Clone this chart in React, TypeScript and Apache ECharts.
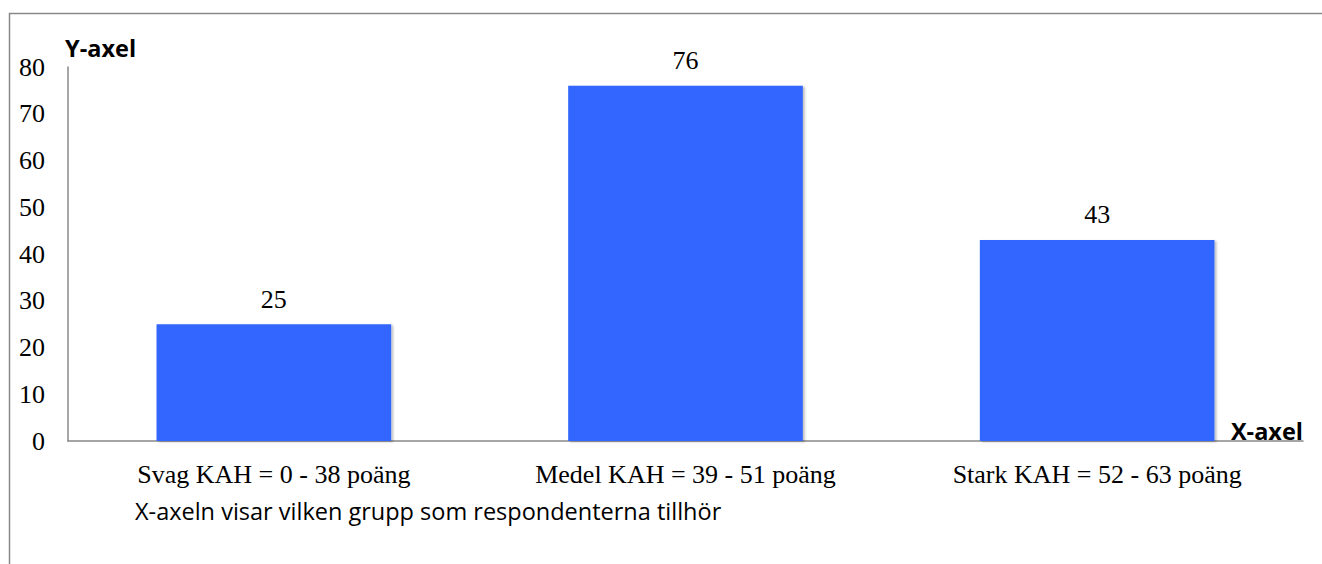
import React, { useEffect, useRef } from "react";
import * as echarts from "echarts";

const categories = [
  "Svag KAH = 0 - 38 poäng",
  "Medel KAH = 39 - 51 poäng",
  "Stark KAH = 52 - 63 poäng",
];
const values = [25, 76, 43];
const yTicks = [0, 10, 20, 30, 40, 50, 60, 70, 80];
const yAxisTitle = "Y-axel";
const xAxisTitle = "X-axel";
const note = "X-axeln visar vilken grupp som respondenterna tillhör";

export default function App() {
  const ref = useRef<HTMLDivElement>(null);
  useEffect(() => {
    if (!ref.current) return;
    const chart = echarts.init(ref.current, null, { renderer: "svg" });
    const serif = "'Liberation Serif', 'Times New Roman', serif";
    const sans = "'Open Sans', 'Liberation Sans', sans-serif";
    chart.setOption({
      animation: false,
      backgroundColor: "#ffffff",
      grid: { left: 68, right: 19, top: 67, bottom: 123, containLabel: false },
      xAxis: {
        type: "category",
        data: categories,
        axisLine: { show: true, lineStyle: { color: "#888888", width: 1.5 } },
        axisTick: { show: false },
        axisLabel: {
          color: "#000",
          fontFamily: serif,
          fontSize: 26,
          margin: 20,
        },
      },
      yAxis: {
        type: "value",
        min: yTicks[0],
        max: yTicks[yTicks.length - 1],
        interval: 10,
        axisLine: { show: true, lineStyle: { color: "#888888", width: 1.5 } },
        axisTick: { show: false },
        splitLine: { show: false },
        axisLabel: {
          color: "#000",
          fontFamily: serif,
          fontSize: 26,
          margin: 23,
        },
      },
      series: [
        {
          type: "bar",
          data: values,
          barCategoryGap: "43%",
          itemStyle: {
            color: "#3366ff",
            shadowColor: "rgba(0,0,0,0.25)",
            shadowBlur: 2,
            shadowOffsetX: 2,
            shadowOffsetY: 1,
          },
          label: {
            show: true,
            position: "top",
            distance: 12,
            color: "#000",
            fontFamily: serif,
            fontSize: 26,
          },
        },
      ],
      graphic: [
        {
          type: "rect",
          shape: { x: 9.5, y: 13.5, width: 1400, height: 700 },
          style: { fill: "none", stroke: "#888888", lineWidth: 1.5 },
          silent: true,
        },
        {
          type: "text",
          x: 65,
          y: 48,
          style: {
            text: yAxisTitle,
            fontFamily: sans,
            fontWeight: "bold",
            fontSize: 23.5,
            fill: "#000",
            verticalAlign: "middle",
            align: "left",
          },
        },
        {
          type: "text",
          x: 1303,
          y: 431,
          style: {
            text: xAxisTitle,
            fontFamily: sans,
            fontWeight: "bold",
            fontSize: 23.5,
            fill: "#000",
            verticalAlign: "middle",
            align: "right",
          },
        },
        {
          type: "text",
          x: 135,
          y: 511,
          style: {
            text: note,
            fontFamily: sans,
            fontSize: 23.5,
            fill: "#000",
            verticalAlign: "middle",
            align: "left",
          },
        },
      ],
    });
    return () => chart.dispose();
  }, []);
  return (
    <div
      ref={ref}
      style={{ position: "fixed", left: 0, top: 0, width: 1322, height: 564 }}
    />
  );
}
